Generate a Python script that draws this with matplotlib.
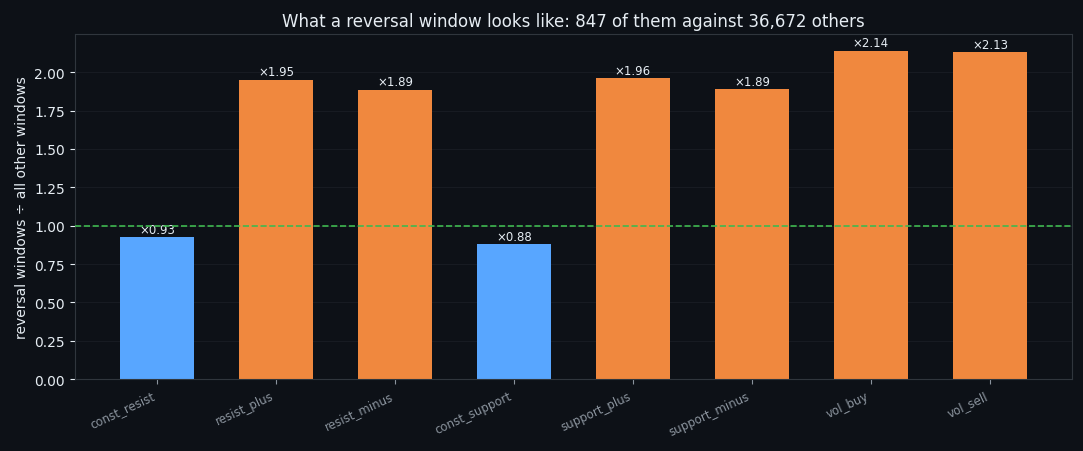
import matplotlib
matplotlib.use("Agg")
from matplotlib import pyplot as plt

features = ['const_resist', 'resist_plus', 'resist_minus', 'const_support',
            'support_plus', 'support_minus', 'vol_buy', 'vol_sell']
ratios = [0.925, 1.95, 1.885, 0.88, 1.96, 1.89, 2.14, 2.13]
labels = ['×0.93', '×1.95', '×1.89', '×0.88', '×1.96', '×1.89', '×2.14', '×2.13']

bg = '#0d1117'
text_c = '#e6edf3'
colors = ['#58a6ff' if r < 1 else '#f0883e' for r in ratios]

fig, ax = plt.subplots(figsize=(10.83, 4.52), dpi=100)
fig.patch.set_facecolor(bg)
ax.set_facecolor(bg)

bars = ax.bar(range(len(features)), ratios, width=0.62, color=colors, zorder=2)
for b, lab in zip(bars, labels):
    ax.text(b.get_x() + b.get_width() / 2, b.get_height() + 0.01, lab,
            ha='center', va='bottom', fontsize=8.5, color=text_c)

ax.axhline(1.0, color='#3fb950', linestyle='--', linewidth=1.2, zorder=3)
ax.set_ylim(0, 2.247)
ax.set_xticks(range(len(features)))
ax.set_xticklabels(features, rotation=25, ha='right', fontsize=8.5, color=text_c)
ax.tick_params(axis='y', colors=text_c, labelsize=10)
ax.tick_params(axis='x', colors='#8b949e')
ax.grid(axis='y', color='#21262d', linewidth=0.6, alpha=0.6, zorder=0)
for s in ax.spines.values():
    s.set_color('#30363d')

ax.set_ylabel("reversal windows ÷ all other windows", color=text_c, fontsize=10)
ax.set_title("What a reversal window looks like: 847 of them against 36,672 others",
             color=text_c, fontsize=12)

fig.subplots_adjust(left=0.069, right=0.99, top=0.922, bottom=0.159)
fig.savefig("out.png", facecolor=bg)
